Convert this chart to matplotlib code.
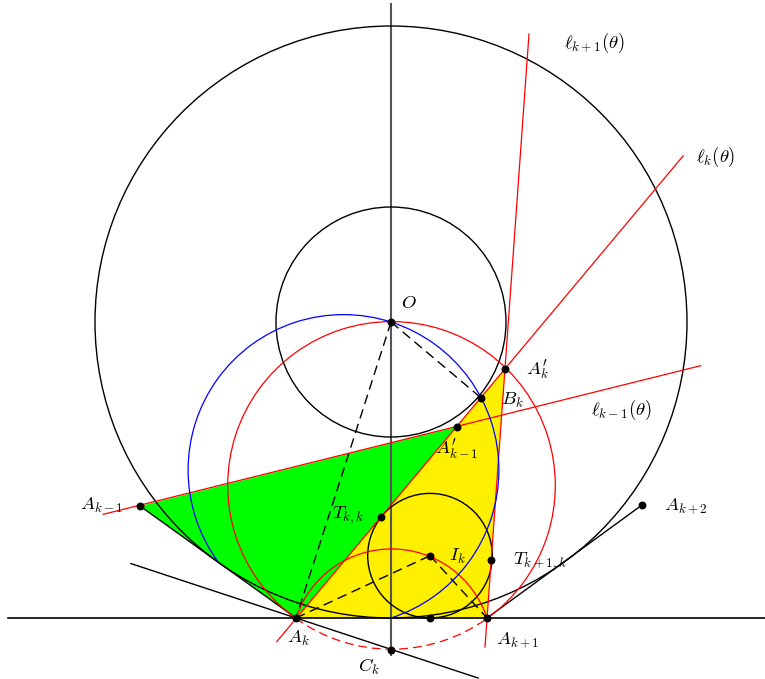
import numpy as np
import matplotlib
matplotlib.use("Agg")
import matplotlib.pyplot as plt
from matplotlib.patches import Circle, Arc, Polygon

plt.rcParams["mathtext.fontset"] = "cm"

# coordinates (origin at O, y upwards)
O = (0.0, 0.0)
R_outer = 296.0
R_inner = 115.0

A_x = [-251.0, -95.0, 96.0, 251.0]      # A_{k-1}, A_k, A_{k+1}, A_{k+2}
A_y = [-184.0, -296.0, -296.0, -183.0]

Ap_k = (114.3, -47.0)        # A'_k
Ap_km1 = (65.7, -104.8)      # A'_{k-1}
B_k = (90.0, -75.8)
T_kk = (-10.0, -194.5)
T_k1k = (100.5, -238.0)
I_k = (39.0, -233.7)
r_in = 62.3
foot = (39.0, -296.0)
C_k = (0.5, -327.5)

# red lines l_{k-1}, l_k, l_{k+1}  (end points)
l_km1 = [(-287.7, -192.3), (309.7, -43.7)]
l_k = [(-114.3, -319.7), (292.3, 166.3)]
l_k1 = [(94.0, -325.0), (138.0, 288.0)]

# black line through A_k and C_k
line_AC = [(-260.0, -241.6), (87.0, -356.0)]

# circumcircle of A_k A_{k+1} A'_k, circle on diameter O A_k
red_c, red_r = (0.5, -163.4), 163.8
blue_c, blue_r = (-47.5, -148.0), 155.4
T_bot = (0.0, -296.0)
T_left = (-173.2, -240.0)

labels = [
    ("$O$", (18, 20)),
    ("$A_k^{\\prime}$", (146, -48)),
    ("$B_k$", (121, -78)),
    ("$A_{k-1}^{\\prime}$", (66, -127)),
    ("$\\ell_{k-1}(\\theta)$", (230, -88)),
    ("$\\ell_k(\\theta)$", (325, 165)),
    ("$\\ell_{k+1}(\\theta)$", (203, 279)),
    ("$A_{k-1}$", (-289, -183)),
    ("$A_{k+2}$", (295, -184)),
    ("$T_{k,k}$", (-43, -193)),
    ("$I_k$", (66, -234)),
    ("$T_{k+1,k}$", (149, -239)),
    ("$A_k$", (-93, -316)),
    ("$A_{k+1}$", (127, -318)),
    ("$C_k$", (-22, -345)),
]


def ang(c, p):
    return np.degrees(np.arctan2(p[1] - c[1], p[0] - c[0]))


fig = plt.figure(figsize=(7.65, 6.79), dpi=100)
ax = fig.add_axes([0, 0, 1, 1])
ax.set_xlim(-391, 374)
ax.set_ylim(-357, 322)
ax.set_aspect("equal")
ax.axis("off")

Ak = (A_x[1], A_y[1])
Ak1 = (A_x[2], A_y[2])
Akm1 = (A_x[0], A_y[0])
Ak2 = (A_x[3], A_y[3])

# filled triangles
ax.add_patch(Polygon([Akm1, Ak, Ap_km1], closed=True, facecolor="#00ff00", edgecolor="none", zorder=1))
ax.add_patch(Polygon([Ak, Ak1, Ap_k], closed=True, facecolor="#fff000", edgecolor="none", zorder=1))

# axes lines
ax.plot([-383, 374], [-296, -296], color="black", lw=1.2, zorder=2)
ax.plot([0, 0], [318, -333], color="#555555", lw=1.5, zorder=2)

# black circles
ax.add_patch(Circle(O, R_outer, fill=False, color="black", lw=1.0, zorder=3))
ax.add_patch(Circle(O, R_inner, fill=False, color="black", lw=1.0, zorder=3))
ax.add_patch(Circle(I_k, r_in, fill=False, color="black", lw=1.0, zorder=3))

# polygon sides
ax.plot([Akm1[0], Ak[0]], [Akm1[1], Ak[1]], color="black", lw=1.0, zorder=3)
ax.plot([Ak1[0], Ak2[0]], [Ak1[1], Ak2[1]], color="black", lw=1.0, zorder=3)
ax.plot(*zip(*line_AC), color="black", lw=1.0, zorder=3)

# dashed segments
for p, q in [(O, Ak), (O, B_k), (Ak, I_k), (I_k, Ak1)]:
    ax.plot([p[0], q[0]], [p[1], q[1]], color="black", lw=1.0, ls=(0, (7, 4)), zorder=3)

# red lines
for seg in [l_km1, l_k, l_k1]:
    ax.plot(*zip(*seg), color="red", lw=0.9, zorder=4)

# red circumcircle: solid above the base line, dashed below
a1, a2 = ang(red_c, Ak1), ang(red_c, Ak) % 360
ax.add_patch(Arc(red_c, 2 * red_r, 2 * red_r, theta1=a1, theta2=a2, color="red", lw=0.9, zorder=4))
ax.add_patch(Arc(red_c, 2 * red_r, 2 * red_r, theta1=a2, theta2=a1 + 360, color="red", lw=0.9,
                 ls=(0, (7, 4)), zorder=4))

# red circle centred at C_k (upper arc only)
rc = np.hypot(Ak[0] - C_k[0], Ak[1] - C_k[1])
ax.add_patch(Arc(C_k, 2 * rc, 2 * rc, theta1=ang(C_k, Ak1), theta2=ang(C_k, Ak), color="red", lw=0.9, zorder=4))

# blue circle on diameter O A_k
ax.add_patch(Arc(blue_c, 2 * blue_r, 2 * blue_r, theta1=ang(blue_c, T_bot), theta2=ang(blue_c, T_left) % 360,
                 color="blue", lw=0.9, zorder=4))

# points
pts = [O, Akm1, Ak, Ak1, Ak2, Ap_k, Ap_km1, B_k, T_kk, T_k1k, I_k, foot, C_k]
ax.scatter([p[0] for p in pts], [p[1] for p in pts], s=22, color="black", zorder=6)

for txt, (x, y) in labels:
    ax.text(x, y, txt, fontsize=13.5, ha="center", va="center", zorder=7)

fig.savefig("out.png", dpi=100)
